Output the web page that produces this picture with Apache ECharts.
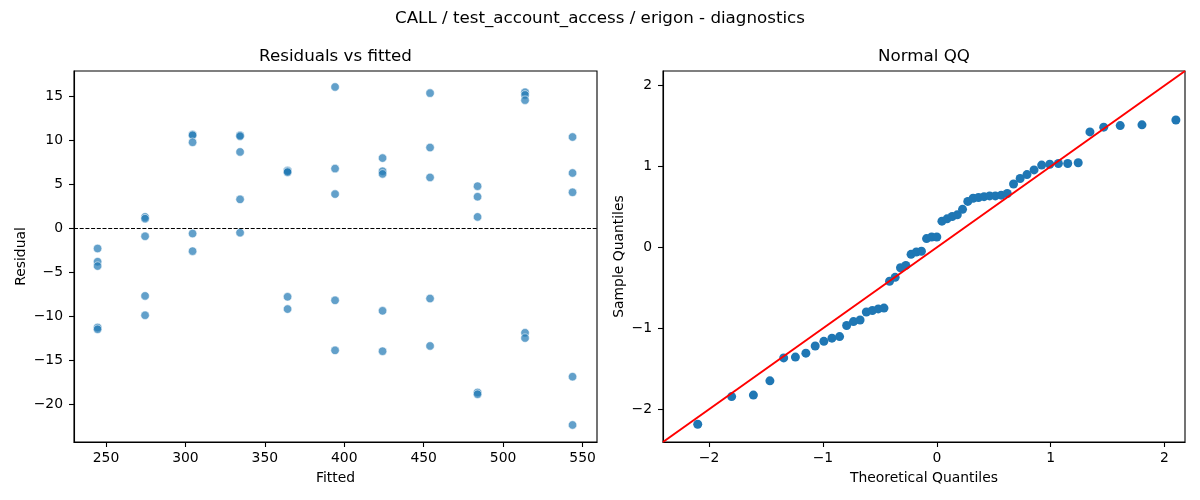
<!DOCTYPE html>
<html>
<head>
<meta charset="utf-8">
<script src="https://cdn.jsdelivr.net/npm/echarts@6/dist/echarts.min.js"></script>
<style>
  html, body { margin: 0; padding: 0; background: #fff; }
  #chart { width: 1200px; height: 500px; }
</style>
</head>
<body>
<div id="chart"></div>
<script>
// ---- Data ----
const fitted = [
  244.7, 244.7, 244.7, 244.7, 244.7,
  274.6, 274.6, 274.6, 274.6, 274.6,
  304.5, 304.5, 304.5, 304.5, 304.5,
  334.4, 334.4, 334.4, 334.4, 334.4,
  364.3, 364.3, 364.3, 364.3, 364.3,
  394.2, 394.2, 394.2, 394.2, 394.2,
  424.1, 424.1, 424.1, 424.1, 424.1,
  454.0, 454.0, 454.0, 454.0, 454.0,
  483.9, 483.9, 483.9, 483.9, 483.9,
  513.8, 513.8, 513.8, 513.8, 513.8,
  543.7, 543.7, 543.7, 543.7, 543.7
];
const residual = [
  -2.3, -3.8, -4.3, -11.3, -11.5,
  1.3, 1.1, -0.9, -7.7, -9.9,
  10.7, 10.6, 9.8, -0.6, -2.6,
  10.6, 10.5, 8.7, 3.3, -0.5,
  6.6, 6.5, 6.4, -7.8, -9.2,
  16.1, 6.8, 3.9, -8.2, -13.9,
  8.0, 6.5, 6.2, -9.4, -14.0,
  15.4, 9.2, 5.8, -8.0, -13.4,
  4.8, 3.6, 1.3, -18.7, -18.9,
  15.5, 15.2, 14.6, -11.9, -12.5,
  10.4, 6.3, 4.1, -16.9, -22.4
];
const theoretical = [
  -2.100, -1.802, -1.611, -1.466, -1.345, -1.242, -1.150, -1.068, -0.992, -0.921,
  -0.854, -0.792, -0.732, -0.674, -0.619, -0.566, -0.514, -0.464, -0.415, -0.366,
  -0.319, -0.272, -0.226, -0.180, -0.135, -0.090, -0.045, 0.000, 0.045, 0.090,
  0.135, 0.180, 0.226, 0.272, 0.319, 0.366, 0.415, 0.464, 0.514, 0.566,
  0.619, 0.674, 0.732, 0.792, 0.854, 0.921, 0.992, 1.068, 1.150, 1.242,
  1.345, 1.466, 1.611, 1.802, 2.100
];
const sample = [
  -2.186, -1.844, -1.825, -1.649, -1.366, -1.356, -1.307, -1.219, -1.161, -1.122,
  -1.102, -0.965, -0.917, -0.897, -0.799, -0.780, -0.760, -0.750, -0.418, -0.370,
  -0.252, -0.223, -0.086, -0.057, -0.047, 0.109, 0.128, 0.128, 0.324, 0.353,
  0.382, 0.402, 0.470, 0.568, 0.607, 0.617, 0.627, 0.636, 0.636, 0.646,
  0.666, 0.783, 0.851, 0.900, 0.958, 1.017, 1.027, 1.037, 1.037, 1.046,
  1.427, 1.486, 1.505, 1.515, 1.574
];
const fittedTicks = [250, 300, 350, 400, 450, 500, 550];
const residualTicks = [-20, -15, -10, -5, 0, 5, 10, 15];
const qqTicks = [-2, -1, 0, 1, 2];

const suptitle = 'CALL / test_account_access / erigon - diagnostics';
const leftTitle = 'Residuals vs fitted';
const rightTitle = 'Normal QQ';

// ---- Axis limits ----
const fitLim = [229.85, 559.1];
const resLim = [-24.34, 17.92];
const qqLim = [-2.405, 2.18];

const FONT = 'DejaVu Sans';
const minus = v => String(v).replace('-', '\u2212');

function axisCommon(ticks, margin) {
  return {
    axisLine: { show: true, onZero: false, lineStyle: { color: '#000', width: 1.1 } },
    axisTick: { show: true, inside: false, length: 5, customValues: ticks, lineStyle: { color: '#000', width: 1.1 } },
    axisLabel: { customValues: ticks, formatter: minus, color: '#000', fontFamily: FONT, fontSize: 13.9, margin: margin },
    splitLine: { show: false },
    nameLocation: 'middle',
    nameTextStyle: { color: '#000', fontFamily: FONT, fontSize: 13.9 }
  };
}

const titleStyle = { fontFamily: FONT, fontSize: 16.7, fontWeight: 'normal', color: '#000' };

const chart = echarts.init(document.getElementById('chart'), null, { renderer: 'canvas' });

const option = {
  animation: false,
  backgroundColor: '#fff',
  title: [
    { text: suptitle, left: 600, textAlign: 'center', top: 10, padding: 0, textStyle: titleStyle },
    { text: leftTitle, left: 335.5, textAlign: 'center', top: 48, padding: 0, textStyle: titleStyle },
    { text: rightTitle, left: 924, textAlign: 'center', top: 48, padding: 0, textStyle: titleStyle }
  ],
  grid: [
    { left: 74, top: 71, width: 523, height: 371, show: true, borderColor: '#000', borderWidth: 1.1, backgroundColor: 'transparent', containLabel: false },
    { left: 663, top: 71, width: 522, height: 371, show: true, borderColor: '#000', borderWidth: 1.1, backgroundColor: 'transparent', containLabel: false }
  ],
  xAxis: [
    Object.assign(axisCommon(fittedTicks, 9), { type: 'value', gridIndex: 0, min: fitLim[0], max: fitLim[1], name: 'Fitted', nameGap: 29 }),
    Object.assign(axisCommon(qqTicks, 9), { type: 'value', gridIndex: 1, min: qqLim[0], max: qqLim[1], name: 'Theoretical Quantiles', nameGap: 29 })
  ],
  yAxis: [
    Object.assign(axisCommon(residualTicks, 11), { type: 'value', gridIndex: 0, min: resLim[0], max: resLim[1], name: 'Residual', nameGap: 46 }),
    Object.assign(axisCommon(qqTicks, 11), { type: 'value', gridIndex: 1, min: qqLim[0], max: qqLim[1], name: 'Sample Quantiles', nameGap: 37 })
  ],
  series: [
    {
      type: 'scatter', xAxisIndex: 0, yAxisIndex: 0,
      data: fitted.map((f, i) => [f, residual[i]]),
      symbolSize: 8.5,
      itemStyle: { color: '#1f77b4', opacity: 0.7, borderColor: '#fff', borderWidth: 0.8 },
      markLine: {
        silent: true, symbol: ['none', 'none'], label: { show: false },
        lineStyle: { color: '#000', type: [4, 1.7], width: 1.1 },
        data: [{ yAxis: 0 }],
        animation: false
      },
      z: 2
    },
    {
      type: 'scatter', xAxisIndex: 1, yAxisIndex: 1,
      data: theoretical.map((t, i) => [t, sample[i]]),
      symbolSize: 9,
      itemStyle: { color: '#1f77b4', opacity: 1 },
      z: 2
    },
    {
      type: 'line', xAxisIndex: 1, yAxisIndex: 1,
      data: [[qqLim[0], qqLim[0]], [qqLim[1], qqLim[1]]],
      showSymbol: false, symbol: 'none',
      lineStyle: { color: '#ff0000', width: 2 },
      clip: true,
      z: 3
    }
  ]
};
chart.setOption(option);
</script>
</body>
</html>
